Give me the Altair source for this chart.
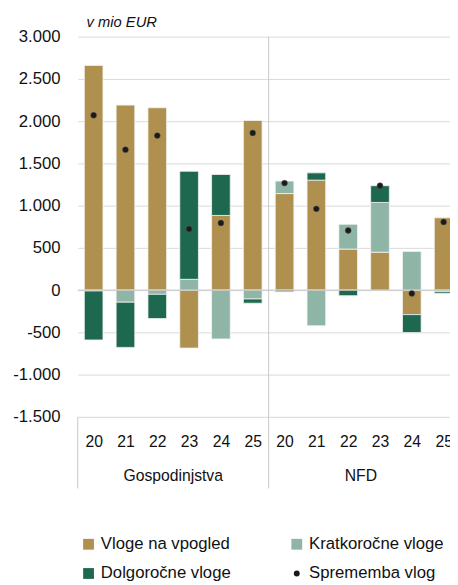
import altair as alt
import pandas as pd

# ---- data ----
groups = ["Gospodinjstva", "NFD"]
group_centers = [2.5, 8.4]
years = ["20", "21", "22", "23", "24", "25", "20", "21", "22", "23", "24", "25"]
series_names = ["Vloge na vpogled", "Kratkoročne vloge", "Dolgoročne vloge", "Sprememba vlog"]
vpogled = [2660, 2190, 2159, -686, 884, 2008, 1143, 1302, 486, 449, -290, 856]
kratkorocne = [-10, -143, -50, 128, -578, -105, 148, -422, 293, 589, 458, -20]
dolgorocne = [-580, -535, -287, 1279, 485, -50, -20, 86, -66, 198, -213, -20]
sprememba = [2070, 1663, 1829, 724, 794, 1860, 1267, 962, 706, 1236, -40, 806]

colors = ["#B0904F", "#8FB5A7", "#1F6850", "#1a1a1a"]
FONT = "Liberation Sans"

rows = []
for i in range(len(years)):
    for k, vals in enumerate([vpogled, kratkorocne, dolgorocne]):
        rows.append({"idx": i, "series": series_names[k], "value": vals[i], "ord": k})
bars_df = pd.DataFrame(rows)
dots_df = pd.DataFrame({"idx": list(range(len(years))), "value": sprememba,
                        "series": [series_names[3]] * len(years)})
groups_df = pd.DataFrame({"label": groups, "pos": group_centers})
zero_df = pd.DataFrame({"v": [0]})

x_scale = alt.Scale(domain=[-0.5, 11.2], nice=False, zero=False, padding=0)
y_scale = alt.Scale(domain=[-1500, 3000], nice=False, padding=0)
color_scale = alt.Scale(domain=series_names, range=colors)
shape_scale = alt.Scale(domain=series_names, range=["square", "square", "square", "circle"])
size_scale = alt.Scale(type="ordinal", domain=series_names, range=[121, 121, 121, 36])

legend = alt.Legend(title=None, orient="none", legendX=2.5, legendY=508, columns=2,
                    direction="horizontal",
                    columnPadding=58, rowPadding=12, labelFont=FONT, labelFontSize=17,
                    labelColor="#111", labelOffset=4, padding=0, symbolStrokeWidth=0,
                    labelLimit=300)

label_expr_years = "[" + ",".join("'" + y + "'" for y in years) + "][datum.value]"
y_label_expr = "(datum.value < 0 ? '-' : '') + replace(format(abs(datum.value), ','), ',', '.')"

x_axis = alt.Axis(values=list(range(len(years))), labelExpr=label_expr_years, title=None,
                  grid=False, domain=False, ticks=False, labelPadding=17,
                  labelFont=FONT, labelFontSize=16, labelColor="#111",
                  labelOverlap=False, labelFlush=False, labelBound=False)
y_axis = alt.Axis(values=list(range(-1500, 3001, 500)), labelExpr=y_label_expr,
                  title=None, grid=True, gridColor="#d9d9d9", gridWidth=1,
                  domain=False, ticks=False, labelPadding=18, labelFont=FONT,
                  labelFontSize=17, labelColor="#111", labelOverlap=False)

bars = alt.Chart(bars_df).mark_bar(width=19, clip=True, stroke="#f4f4f4", strokeWidth=0.8).encode(
    x=alt.X("idx:Q", scale=x_scale, axis=x_axis),
    y=alt.Y("value:Q", stack="zero", scale=y_scale, axis=y_axis),
    color=alt.Color("series:N", scale=color_scale, legend=legend),
    order=alt.Order("ord:Q"),
)

zero = alt.Chart(zero_df).mark_rule(color="#c4c4c4", strokeWidth=1).encode(
    y=alt.Y("v:Q", scale=y_scale, axis=y_axis))

dots = alt.Chart(dots_df).mark_point(filled=True, opacity=1, stroke="#555", strokeWidth=0.5).encode(
    x=alt.X("idx:Q", scale=x_scale, axis=x_axis),
    y=alt.Y("value:Q", scale=y_scale, axis=y_axis),
    color=alt.Color("series:N", scale=color_scale, legend=legend),
    shape=alt.Shape("series:N", scale=shape_scale, legend=legend),
    size=alt.Size("series:N", scale=size_scale, legend=legend),
)

left_rule = alt.Chart(zero_df).mark_rule(color="#c8c8c8", strokeWidth=1).encode(
    x=alt.X(datum=-0.5, scale=x_scale, axis=x_axis), y=alt.value(387), y2=alt.value(460))
mid_rule = alt.Chart(zero_df).mark_rule(color="#c8c8c8", strokeWidth=1).encode(
    x=alt.X(datum=5.5, scale=x_scale, axis=x_axis), y=alt.value(0), y2=alt.value(460))

group_text = alt.Chart(groups_df).mark_text(font=FONT, fontSize=16, color="#111",
                                            baseline="middle", align="center").encode(
    x=alt.X("pos:Q", scale=x_scale, axis=x_axis), y=alt.value(447), text="label:N")

chart = alt.layer(bars, zero, left_rule, mid_rule, dots, group_text).properties(
    width=379, height=387, background="white",
    title=alt.TitleParams("v mio EUR", anchor="start", frame="group", fontStyle="italic",
                          fontSize=15, font=FONT, fontWeight="normal", color="#111",
                          dx=9, dy=8, offset=6),
    autosize=alt.AutoSizeParams(type="none"),
    padding={"left": 71, "top": 24, "right": 0, "bottom": 166},
).configure_view(stroke=None)

chart.save("out.html", embed_options={"renderer": "svg", "actions": False})
